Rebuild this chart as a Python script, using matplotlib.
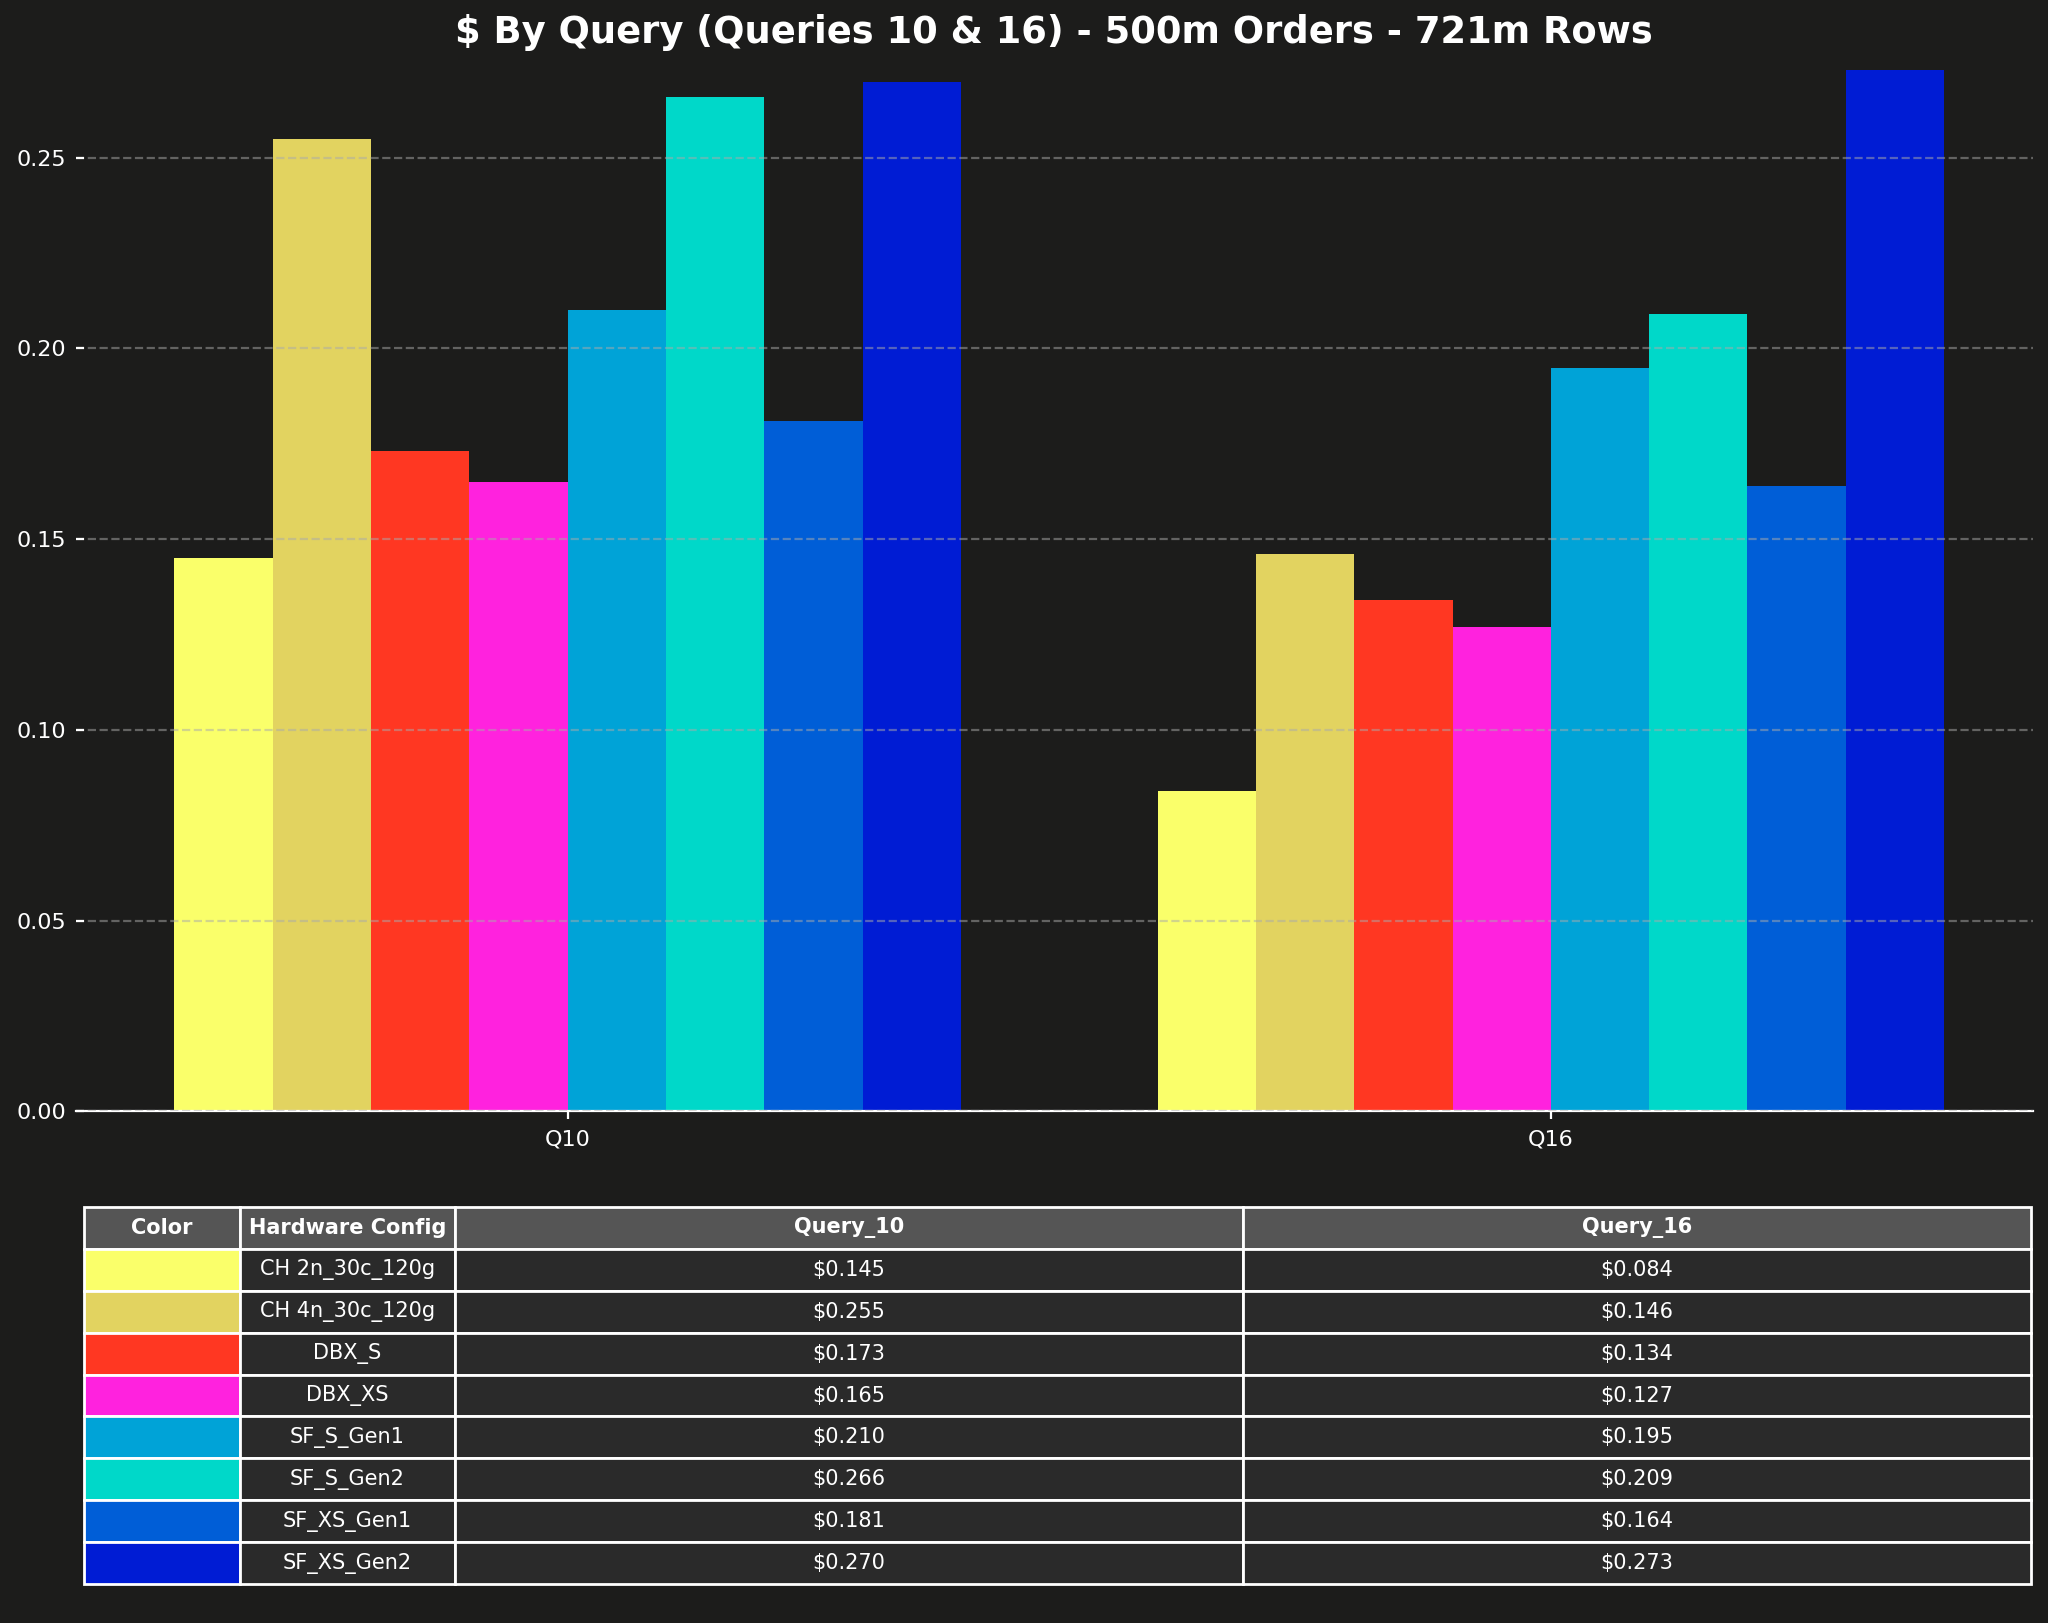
import matplotlib
matplotlib.use("Agg")
import matplotlib.pyplot as plt
import numpy as np

queries = ["Q10", "Q16"]
configs = ["CH 2n_30c_120g", "CH 4n_30c_120g", "DBX_S", "DBX_XS",
           "SF_S_Gen1", "SF_S_Gen2", "SF_XS_Gen1", "SF_XS_Gen2"]
query_10 = [0.145, 0.255, 0.173, 0.165, 0.210, 0.266, 0.181, 0.270]
query_16 = [0.084, 0.146, 0.134, 0.127, 0.195, 0.209, 0.164, 0.273]
colors = ["#FAFF6A", "#E2D360", "#FF3722", "#FF22DE",
          "#00A3D7", "#00D8C9", "#005ED7", "#001CD4"]
col_labels = ["Color", "Hardware Config", "Query_10", "Query_16"]
title = "$ By Query (Queries 10 & 16) - 500m Orders - 721m Rows"

BG = "#1c1c1b"
plt.rcParams["font.family"] = ["DejaVu Sans"]

fig = plt.figure(figsize=(10.24, 8.115), dpi=200, facecolor=BG)
ax = fig.add_axes([0.0371, 0.3153, 0.9554, 0.6428])
ax.set_facecolor(BG)

x = np.arange(len(queries))
width = 0.1
values = np.array([query_10, query_16])  # shape (2, 8)
n = len(configs)
for i in range(n):
    ax.bar(x + (i - (n - 1) / 2) * width, values[:, i], width,
           color=colors[i], edgecolor="none", linewidth=0, zorder=1)

ax.set_xlim(-0.5, 1.49)
ax.set_ylim(0, values.max() * 1.002)
ax.set_xticks(x)
ax.set_xticklabels(queries)
ax.set_yticks([0.0, 0.05, 0.10, 0.15, 0.20, 0.25])
ax.tick_params(colors="white", labelsize=8, length=3, width=0.8)
ax.tick_params(axis="y", direction="in")
for s in ["top", "right", "left"]:
    ax.spines[s].set_visible(False)
ax.spines["bottom"].set_color("white")
ax.yaxis.grid(True, linestyle="--", color="#aaaaaa", alpha=0.5, linewidth=0.8, zorder=3)
ax.set_axisbelow(False)
ax.set_title(title, color="white", fontsize=13.3, fontweight="bold", pad=9)

# table
tax = fig.add_axes([0.041, 0.024, 0.9507, 0.2323])
tax.axis("off")
cell_text = [["", c, f"${a:.3f}", f"${b:.3f}"] for c, a, b in zip(configs, query_10, query_16)]
tbl = tax.table(cellText=cell_text, colLabels=col_labels,
                colWidths=[0.0801, 0.1104, 0.4047, 0.4047],
                cellLoc="center", loc="center", bbox=[0, 0, 1, 1])
tbl.auto_set_font_size(False)
tbl.set_fontsize(7.5)
for (r, c), cell in tbl.get_celld().items():
    cell.set_edgecolor("white")
    cell.set_linewidth(1.0)
    if r == 0:
        cell.set_facecolor("#555555")
        cell.get_text().set_color("white")
        cell.get_text().set_fontweight("bold")
    else:
        if c == 0:
            cell.set_facecolor(colors[r - 1])
        else:
            cell.set_facecolor("#2a2a2a")
        cell.get_text().set_color("white")

fig.savefig("out.png", dpi=200, facecolor=BG)
